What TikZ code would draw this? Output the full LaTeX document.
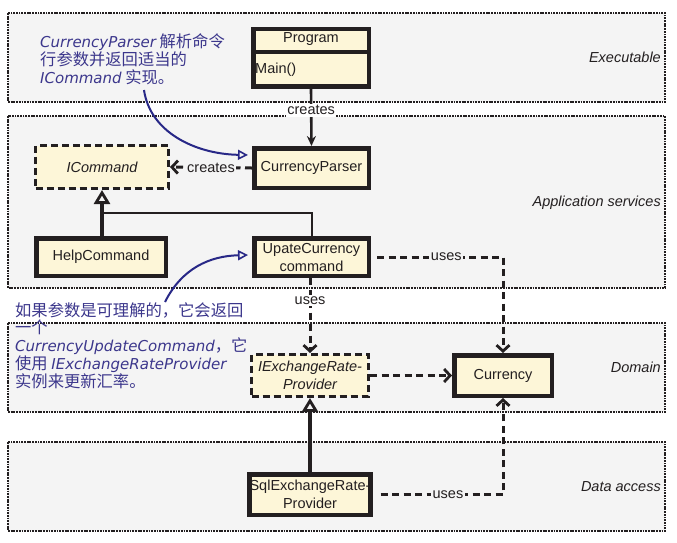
\documentclass[tikz,border=0pt]{standalone}
\usepackage{fontspec}
\setmainfont{Liberation Sans}
\newfontfamily\cjk{Noto Sans CJK SC}
\newfontfamily\handfont{DejaVu Sans}
\usetikzlibrary{arrows.meta,positioning,calc}
\definecolor{boxfill}{RGB}{253,246,216}
\definecolor{layerfill}{RGB}{244,244,244}
\definecolor{ink}{RGB}{35,31,32}
\definecolor{navy}{RGB}{40,40,135}
\definecolor{annot}{RGB}{60,55,140}
\newcommand\hw[1]{{\handfont\itshape\fontsize{15}{18}\selectfont #1}}
\begin{document}
\begin{tikzpicture}[x=1pt,y=-1pt,
  layer/.style={draw=ink, fill=layerfill, line width=2.2pt, dash pattern=on 1.8pt off 0.9pt},
  layerlbl/.style={anchor=east, font=\fontsize{14.5}{17}\selectfont\itshape, inner sep=0pt, text=ink},
  cls/.style={draw=ink, fill=boxfill, line width=4.5pt, inner sep=0pt, align=center,
    font=\fontsize{14.5}{18}\selectfont, text=ink},
  iface/.style={cls, line width=3.4pt, dash pattern=on 7pt off 4pt, font=\fontsize{14.5}{18}\selectfont\itshape},
  dep/.style={draw=ink, line width=3pt, dash pattern=on 7pt off 4.5pt, -{Straight Barb[length=6pt,width=13pt,line width=2.8pt]}},
  inh/.style={draw=ink, line width=3.6pt, -{Triangle[open,length=14pt,width=16pt,line width=2.8pt]}},
  lbl/.style={font=\fontsize{14.5}{17}\selectfont, text=ink, inner sep=1.5pt},
  ann/.style={align=left, anchor=north west, inner sep=0pt, text=annot, font=\fontsize{16.3}{18}\selectfont\cjk},
  annarrow/.style={draw=navy, line width=2pt, -{Triangle[open,length=10pt,width=10pt,line width=1.6pt]}}
]
\useasboundingbox (0,0) rectangle (677,542);
% layers
\draw[layer] (8,13) rectangle (665,102);
\draw[layer] (8,116) rectangle (665,288);
\draw[layer] (8,323) rectangle (665,412);
\draw[layer] (8,442) rectangle (665,531);
\node[layerlbl] (lexe) at (661,57) {Executable};
\node[layerlbl] (lapp) at (661,203) {Application services};
\node[layerlbl] (ldom) at (661,367) {Domain};
\node[layerlbl] (ldat) at (661,487) {Data access};

% Program class with compartments
\node[cls, minimum width=115.5pt, minimum height=57.5pt] (prog) at (311,57.5) {};
\draw[ink, line width=3.6pt] (prog.west |- 0,52) -- (prog.east |- 0,52);
\node[lbl, inner sep=0pt] (progname) at (311,39) {Program};
\node[lbl, inner sep=0pt, anchor=west] (progmain) at (255,70) {Main()};

% classes
\node[cls, minimum width=114.5pt, minimum height=39.5pt] (parser) at (311.5,168) {CurrencyParser};
\node[iface, minimum width=132.6pt, minimum height=42.6pt] (icmd) at (102,167) {ICommand};
\node[cls, minimum width=129.5pt, minimum height=37.5pt] (help) at (101,257) {HelpCommand};
\node[cls, minimum width=114.5pt, minimum height=37.5pt] (upd) at (311.5,257) {UpateCurrency\\command};
\node[iface, minimum width=116.6pt, minimum height=41.6pt] (iex) at (310,375.5) {IExchangeRate-\\Provider};
\node[cls, minimum width=97.5pt, minimum height=40.5pt] (cur) at (503,375.5) {Currency};
\node[cls, minimum width=113.5pt, minimum height=40.5pt] (sql) at (310,494.5) {SqlExchangeRate-\\Provider};

% connectors
\draw[draw=ink, line width=2.6pt, -{Stealth[length=10pt,width=9pt]}] (prog.south) -- node[lbl, fill=white, pos=0.38] {creates} (parser.north);
\draw[dep] (parser.west) -- node[lbl, fill=layerfill, pos=0.5] {creates} (icmd.east);
\draw[inh] (help.north -| icmd.south) -- (icmd.south);
\coordinate (join) at (102,213);
\draw[draw=ink, line width=1.8pt] ($(upd.north)+(0.5,0)$) |- (join);
\draw[dep] (upd.south -| iex.north) -- node[lbl, fill=white, pos=0.3] {uses} (iex.north);
\draw[dep] ($(upd.east)+(6,0)$) -- node[lbl, fill=layerfill, pos=0.55] {uses} (upd.east -| cur.north) -- (cur.north);
\draw[dep] (iex.east) -- (cur.west);
\draw[inh] (sql.north) -- (iex.south);
\draw[dep] ($(sql.east)+(8,0)$) -- node[lbl, fill=layerfill, pos=0.55] {uses} (sql.east -| cur.south) -- (cur.south);

% annotations
\node[ann] (ann1) at (40,33) {\hw{CurrencyParser} 解析命令\\行参数并返回适当的\\\hw{ICommand} 实现。};
\coordinate (a1start) at (144,90);
\draw[annarrow] (a1start) .. controls (150,132) and (195,154) .. ($(parser.west)+(-4,-13)$);
\node[ann, font=\fontsize{16.3}{17.8}\selectfont\cjk] (ann2) at (15,302) {如果参数是可理解的，它会返回\\一个\\\hw{CurrencyUpdateCommand}，它\\使用 \hw{IExchangeRateProvider}\\实例来更新汇率。};
\coordinate (a2start) at (165,302);
\draw[annarrow] (a2start) .. controls (182,268) and (210,256) .. ($(upd.west)+(-4,-2)$);
\end{tikzpicture}
\end{document}
